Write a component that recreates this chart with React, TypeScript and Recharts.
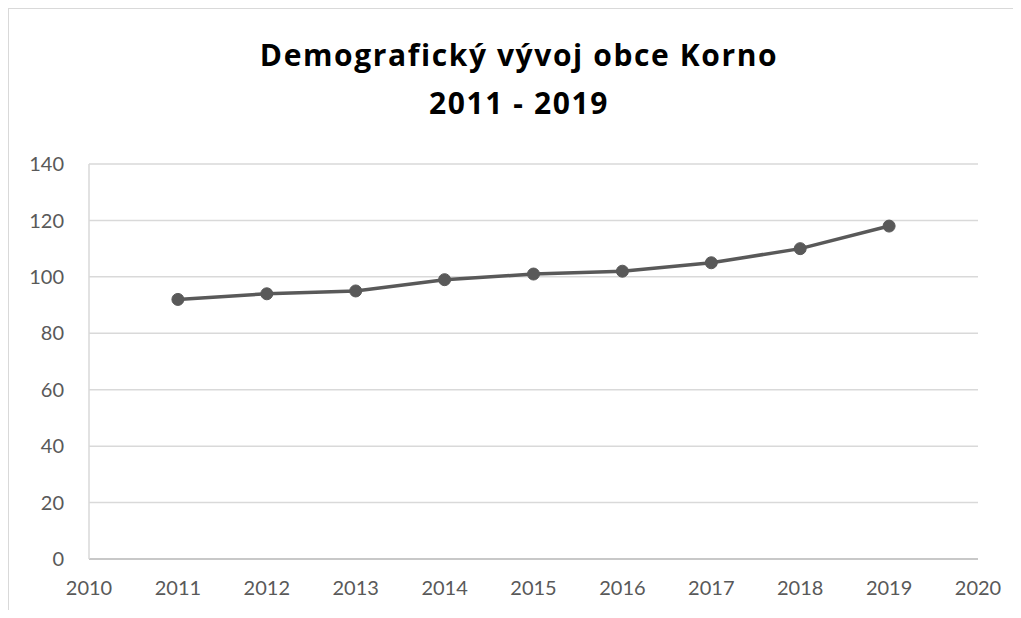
import { LineChart, Line, XAxis, YAxis, CartesianGrid } from "recharts";

const years = [2011, 2012, 2013, 2014, 2015, 2016, 2017, 2018, 2019];
const population = [92, 94, 95, 99, 101, 102, 105, 110, 118];
const xTicks = [2010, 2011, 2012, 2013, 2014, 2015, 2016, 2017, 2018, 2019, 2020];
const yTicks = [0, 20, 40, 60, 80, 100, 120, 140];
const titleLines = ["Demografický vývoj obce Korno", "2011 - 2019"];

const data = years.map((year, i) => ({ year, value: population[i] }));

const tickStyle = { fill: "#595959", fontSize: 20, fontFamily: "Lato, sans-serif" };

export default function App() {
  return (
    <div
      style={{
        position: "relative",
        width: 1013,
        height: 602,
        borderLeft: "1px solid #d9d9d9",
        borderTop: "1px solid #d9d9d9",
        boxSizing: "border-box",
        background: "#fff",
      }}
    >
      <div
        style={{
          position: "absolute",
          left: 0,
          top: 22,
          width: 1020,
          textAlign: "center",
          fontFamily: "'Open Sans', sans-serif",
          fontWeight: 700,
          fontSize: 30,
          letterSpacing: 1.6,
          lineHeight: "48px",
          color: "#000",
        }}
      >
        {titleLines.map((t) => (
          <div key={t}>{t}</div>
        ))}
      </div>
      <LineChart
        width={1013}
        height={602}
        data={data}
        margin={{ top: 155, right: 44, left: 0, bottom: 0 }}
      >
        <CartesianGrid horizontal vertical={false} stroke="#d9d9d9" strokeWidth={1.5} />
        <XAxis
          dataKey="year"
          type="number"
          domain={[2010, 2020]}
          ticks={xTicks}
          height={52}
          axisLine={{ stroke: "#bfbfbf", strokeWidth: 1.5 }}
          tickLine={false}
          tickSize={0}
          tickMargin={22}
          tick={tickStyle}
        />
        <YAxis
          domain={[0, 140]}
          ticks={yTicks}
          width={80}
          axisLine={{ stroke: "#d9d9d9", strokeWidth: 1.5 }}
          tickLine={false}
          tickSize={0}
          tickMargin={25}
          tick={tickStyle}
        />
        <Line
          type="linear"
          dataKey="value"
          stroke="#595959"
          strokeWidth={3.5}
          dot={{ r: 6, fill: "#595959", stroke: "#595959", strokeWidth: 1 }}
          activeDot={false}
          isAnimationActive={false}
        />
      </LineChart>
    </div>
  );
}
